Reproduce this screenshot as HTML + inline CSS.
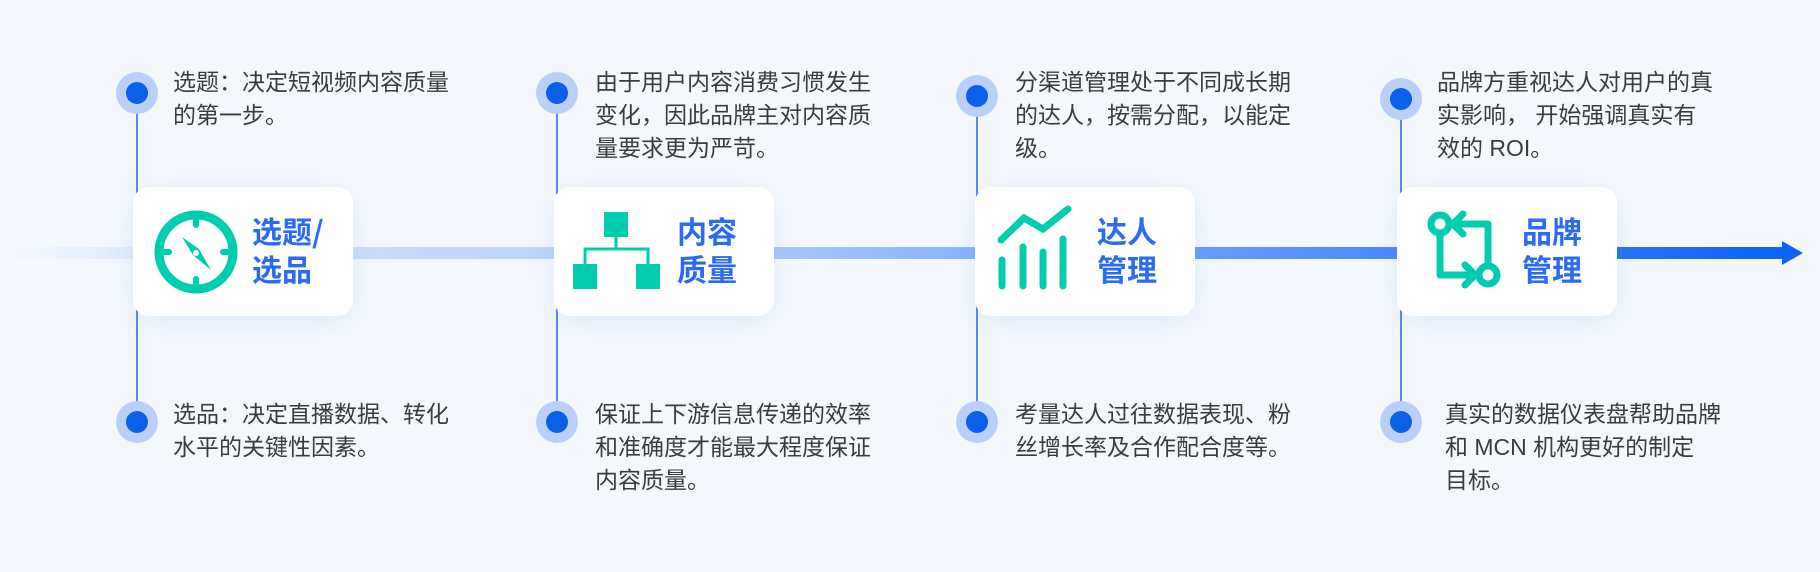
<!DOCTYPE html>
<html><head><meta charset="utf-8"><style>
html,body{margin:0;padding:0;}
body{width:1820px;height:572px;background:#f4f8fc;position:relative;overflow:hidden;font-family:"Liberation Sans","Noto Sans CJK SC",sans-serif;}
.t{position:absolute;font-size:23px;line-height:33px;color:#3c3c3c;white-space:nowrap;}
.card{position:absolute;top:187px;width:220px;height:129px;background:#fff;border-radius:16px;box-shadow:0 6px 30px rgba(90,140,230,0.12);}
.ti{position:absolute;top:24px;font-size:30px;line-height:38px;font-weight:bold;color:#2b6bf3;font-family:"Noto Sans CJK SC",sans-serif;}
svg{position:absolute;left:0;top:0;}
</style></head><body>
<svg width="1820" height="572">
<defs>
<linearGradient id="g" x1="0" x2="1820" y1="0" y2="0" gradientUnits="userSpaceOnUse">
<stop offset="0" stop-color="#dce8fb" stop-opacity="0"/>
<stop offset="0.1" stop-color="#d6e5fd"/>
<stop offset="0.4" stop-color="#aecbfb"/>
<stop offset="0.7" stop-color="#5a95fb"/>
<stop offset="0.98" stop-color="#0d63f5"/>
</linearGradient>
</defs>
<rect x="0" y="247" width="1785" height="12" fill="url(#g)"/>
<polygon points="1782,241 1803,253 1782,265" fill="#0d63f5"/>
<g stroke="#1f66ee" stroke-width="1.5">
<line x1="137" y1="93" x2="137" y2="422"/>
<line x1="557" y1="93" x2="557" y2="422"/>
<line x1="977" y1="96" x2="977" y2="422"/>
<line x1="1401" y1="99" x2="1401" y2="422"/>
</g>
<g fill="#bad0fb">
<circle cx="137" cy="93" r="21"/><circle cx="137" cy="422" r="21"/>
<circle cx="557" cy="93" r="21"/><circle cx="557" cy="422" r="21"/>
<circle cx="977" cy="96" r="21"/><circle cx="977" cy="422" r="21"/>
<circle cx="1401" cy="99" r="21"/><circle cx="1401" cy="422" r="21"/>
</g>
<g fill="#0a60e8">
<circle cx="137" cy="93" r="11"/><circle cx="137" cy="422" r="11"/>
<circle cx="557" cy="93" r="11"/><circle cx="557" cy="422" r="11"/>
<circle cx="977" cy="96" r="11"/><circle cx="977" cy="422" r="11"/>
<circle cx="1401" cy="99" r="11"/><circle cx="1401" cy="422" r="11"/>
</g>
</svg>

<div class="t" style="left:173px;top:66px">选题：决定短视频内容质量<br>的第一步。</div>
<div class="t" style="left:173px;top:398px">选品：决定直播数据、转化<br>水平的关键性因素。</div>
<div class="t" style="left:595px;top:66px">由于用户内容消费习惯发生<br>变化，因此品牌主对内容质<br>量要求更为严苛。</div>
<div class="t" style="left:595px;top:398px">保证上下游信息传递的效率<br>和准确度才能最大程度保证<br>内容质量。</div>
<div class="t" style="left:1015px;top:66px">分渠道管理处于不同成长期<br>的达人，按需分配，以能定<br>级。</div>
<div class="t" style="left:1015px;top:398px">考量达人过往数据表现、粉<br>丝增长率及合作配合度等。</div>
<div class="t" style="left:1437px;top:66px">品牌方重视达人对用户的真<br>实影响， 开始强调真实有<br>效的 ROI。</div>
<div class="t" style="left:1445px;top:398px">真实的数据仪表盘帮助品牌<br>和 MCN 机构更好的制定<br>目标。</div>

<div class="card" style="left:133px">
<svg width="130" height="129">
<circle cx="63" cy="65" r="37" fill="none" stroke="#00ccb0" stroke-width="9"/>
<g stroke="#00ccb0" stroke-width="6" stroke-linecap="round">
<line x1="63" y1="30" x2="63" y2="38"/><line x1="63" y1="92" x2="63" y2="100"/>
<line x1="28" y1="65" x2="36" y2="65"/><line x1="90" y1="65" x2="98" y2="65"/>
</g>
<polygon points="49,50 60,62 78,83 66,68" fill="#00ccb0"/>
<polygon points="49,50 66,62 78,83 60,68" fill="#00ccb0"/>
<circle cx="63" cy="66" r="3" fill="#fff"/>
</svg>
<div class="ti" style="left:119px">选题/<br>选品</div>
</div>

<div class="card" style="left:554px">
<svg width="130" height="129">
<rect x="50" y="25" width="24" height="25" fill="#00ccb0"/>
<rect x="19" y="77" width="24" height="25" fill="#00ccb0"/>
<rect x="82" y="77" width="24" height="25" fill="#00ccb0"/>
<g stroke="#00ccb0" stroke-width="3" fill="none">
<line x1="62" y1="50" x2="62" y2="62"/>
<polyline points="31,77 31,62 94,62 94,77"/>
</g>
</svg>
<div class="ti" style="left:123px">内容<br>质量</div>
</div>

<div class="card" style="left:975px">
<svg width="130" height="129">
<g stroke="#00ccb0" stroke-width="7" stroke-linecap="round" fill="none">
<line x1="27" y1="73" x2="27" y2="99"/>
<line x1="48" y1="60" x2="48" y2="99"/>
<line x1="68" y1="65" x2="68" y2="99"/>
<line x1="88" y1="52" x2="88" y2="99"/>
<polyline points="26,53 49,31 68,42 93,22"/>
</g>
</svg>
<div class="ti" style="left:122px">达人<br>管理</div>
</div>

<div class="card" style="left:1397px">
<svg width="130" height="129">
<g stroke="#00ccb0" stroke-width="7" fill="none" stroke-linecap="round" stroke-linejoin="round">
<circle cx="43" cy="37" r="9"/>
<polyline points="43,46 43,88 78,88"/>
<polyline points="68,78 78,88 68,98"/>
<circle cx="91" cy="88" r="9"/>
<polyline points="91,79 91,37 56,37"/>
<polyline points="66,27 56,37 66,47"/>
</g>
</svg>
<div class="ti" style="left:125px">品牌<br>管理</div>
</div>
</body></html>
